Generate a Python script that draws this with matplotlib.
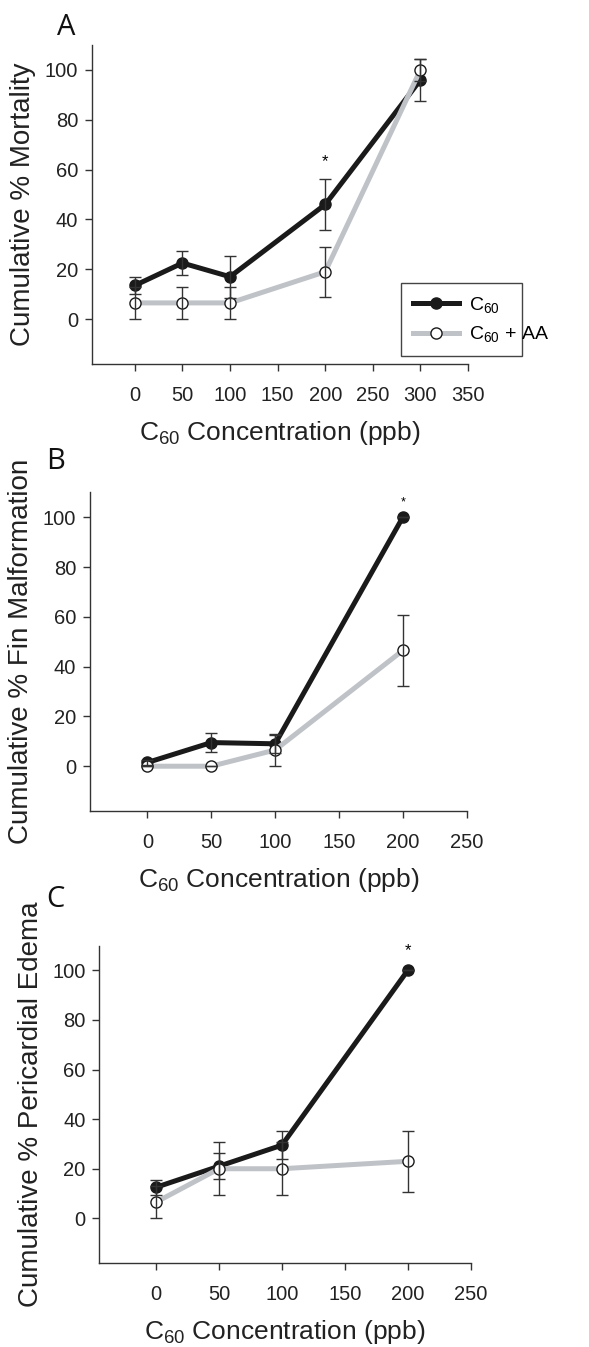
import numpy as np
import matplotlib
matplotlib.use("Agg")
import matplotlib.pyplot as plt

plt.rcParams["mathtext.default"] = "regular"

# panel A - mortality
conc_a = [0, 50, 100, 200, 300]
mort_c60 = [13.5, 22.5, 17, 46, 96]
mort_c60_err = [3.5, 4.8, 8.5, 10.3, 8.5]
mort_aa = [6.5, 6.5, 6.5, 19, 100]
mort_aa_err = [6.5, 6.5, 6.5, 10, 4.5]

# panel B - fin malformation
conc_b = [0, 50, 100, 200]
fin_c60 = [1.5, 9.5, 9, 100]
fin_c60_err = [1, 3.8, 3.5, 0]
fin_aa = [0, 0, 6.5, 46.5]
fin_aa_err = [0, 0, 6.5, 14.3]

# panel C - pericardial edema
conc_c = [0, 50, 100, 200]
ede_c60 = [12.5, 21, 29.5, 100]
ede_c60_err = [3, 5.2, 5.7, 0]
ede_aa = [6.5, 20, 20, 23]
ede_aa_err = [6.5, 10.6, 10.6, 12.3]

ylabels = ["Cumulative % Mortality", "Cumulative % Fin Malformation", "Cumulative % Pericardial Edema"]
letters = ["A", "B", "C"]
star_y = [63, 106, 108]
star_size = [12, 9, 12]
xmax = [350, 250, 250]

font = ["Liberation Sans", "DejaVu Sans"]
grey = "#bfc3c8"

fig = plt.figure(figsize=(5.89, 13.47), dpi=100)
boxes = [[0.1562, 0.7298, 0.6384, 0.2368],
         [0.1528, 0.3979, 0.6395, 0.2366],
         [0.1686, 0.0624, 0.6306, 0.2356]]
letter_pos = [(0.097, 0.990), (0.078, 0.668), (0.078, 0.343)]

panels = [(conc_a, mort_c60, mort_c60_err, mort_aa, mort_aa_err),
          (conc_b, fin_c60, fin_c60_err, fin_aa, fin_aa_err),
          (conc_c, ede_c60, ede_c60_err, ede_aa, ede_aa_err)]

for i, (x, c60, c60e, aa, aae) in enumerate(panels):
    ax = fig.add_axes(boxes[i])
    ax.plot(x, c60, color="#1a1a1a", linewidth=3.6, marker="o", markersize=8,
            markerfacecolor="#1a1a1a", markeredgecolor="#1a1a1a", label="C$_{60}$", zorder=3)
    ax.plot(x, aa, color=grey, linewidth=3.6, marker="o", markersize=8,
            markerfacecolor="white", markeredgecolor="#1a1a1a", markeredgewidth=1.0,
            label="C$_{60}$ + AA", zorder=4)
    ax.errorbar(x, c60, yerr=c60e, fmt="none", ecolor="#333333", elinewidth=1.0, capsize=4.2, capthick=1.0, zorder=5)
    ax.errorbar(x, aa, yerr=aae, fmt="none", ecolor="#333333", elinewidth=1.0, capsize=4.2, capthick=1.0, zorder=5)
    ax.text(200, star_y[i], "*", ha="center", va="center", fontsize=star_size[i], family=font)

    ax.set_xlim(-45, xmax[i])
    ax.set_ylim(-18, 110)
    ax.set_xticks(np.arange(0, xmax[i] + 1, 50))
    ax.set_yticks([0, 20, 40, 60, 80, 100])
    ax.spines["top"].set_visible(False)
    ax.spines["right"].set_visible(False)
    for s in ["left", "bottom"]:
        ax.spines[s].set_linewidth(1.0)
        ax.spines[s].set_color("#333333")
    ax.tick_params(axis="x", direction="out", length=5, width=1, pad=11, colors="#333333", labelcolor="#222222")
    ax.tick_params(axis="y", direction="out", length=5, width=1, pad=5, colors="#333333", labelcolor="#222222")
    for lab in ax.get_xticklabels() + ax.get_yticklabels():
        lab.set_family(font)
        lab.set_fontsize(14.5)
    ax.set_ylabel(ylabels[i], fontsize=20, family=font, color="#222222", labelpad=6)
    ax.set_xlabel("C$_{60}$ Concentration (ppb)", fontsize=19, family=font, color="#222222", labelpad=10)
    fig.text(letter_pos[i][0], letter_pos[i][1], letters[i], fontsize=21, family=["Open Sans", "DejaVu Sans"],
             ha="left", va="top", color="#111111")

    if i == 0:
        leg = ax.legend(loc="lower left", bbox_to_anchor=(0.822, 0.025, 0.322, 0.229), mode="expand",
                        borderaxespad=0, fancybox=False, edgecolor="#444444", framealpha=1,
                        handlelength=2.4, borderpad=0.6, labelspacing=0.5, handletextpad=0.5,
                        prop={"family": font, "size": 14})
        leg.get_frame().set_linewidth(1.0)

plt.savefig("out.png", dpi=100)
plt.close()
